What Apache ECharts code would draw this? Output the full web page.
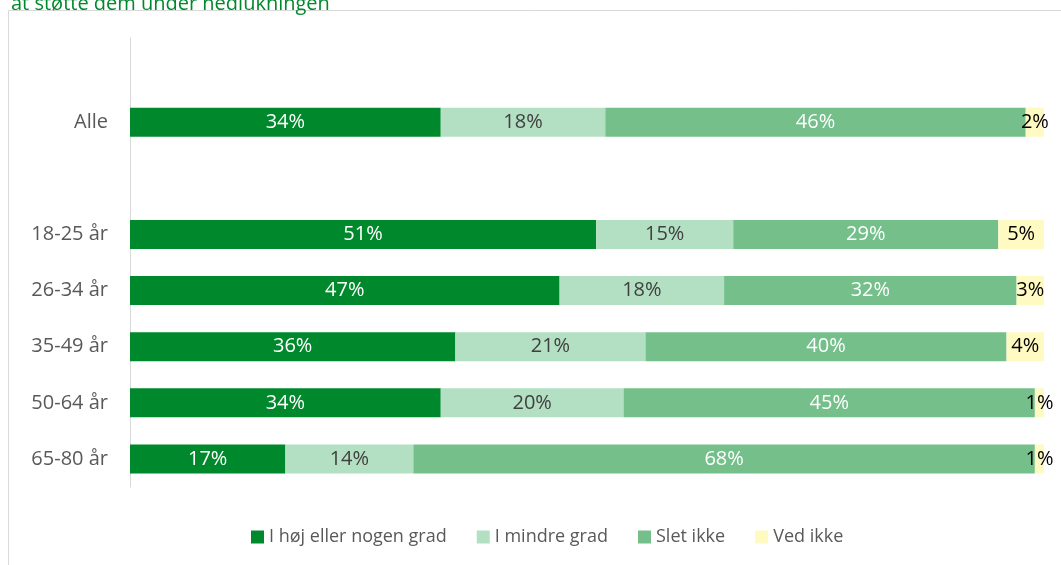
<!DOCTYPE html>
<html>
<head>
<meta charset="utf-8">
<title>Nedlukning</title>
<script src="https://cdn.jsdelivr.net/npm/echarts@6/dist/echarts.min.js"></script>
<style>
  html, body { margin: 0; padding: 0; background: #fff; }
  #chart { width: 1061px; height: 565px; }
</style>
</head>
<body>
<div id="chart"></div>
<script>
// kategorier (tomme felter giver luft over og under "Alle")
var categories = ['', 'Alle', '', '18-25 år', '26-34 år', '35-49 år', '50-64 år', '65-80 år'];
var seriesNames = ['I høj eller nogen grad', 'I mindre grad', 'Slet ikke', 'Ved ikke'];

var hoejGrad   = [null, 34, null, 51, 47, 35.6, 34, 17];
var mindreGrad = [null, 18, null, 15, 18, 20.8, 20, 14];
var sletIkke   = [null, 46, null, 29, 32, 39.5, 45, 68];
var vedIkke    = [null, 2,  null, 5,  3,  4.1,  1,  1];

var colors = ['#00892C', '#B3DFC2', '#74BF8A', '#FFF9C2'];
var labelColors = ['#ffffff', '#404040', '#ffffff', '#000000'];
var values = [hoejGrad, mindreGrad, sletIkke, vedIkke];

var chart = echarts.init(document.getElementById('chart'));

var series = values.map(function (data, i) {
    return {
        name: seriesNames[i],
        type: 'bar',
        stack: 'total',
        barWidth: 29,
        data: data,
        itemStyle: { color: colors[i] },
        label: {
            show: true,
            position: 'inside',
            color: labelColors[i],
            fontSize: 20,
            fontFamily: 'Open Sans',
            formatter: function (p) {
                return p.value == null ? '' : Math.round(p.value) + '%';
            }
        }
    };
});

var option = {
    animation: false,
    title: {
        text: 'at støtte dem under nedlukningen',
        left: 6,
        top: -11,
        textStyle: { color: '#00892C', fontSize: 20, fontWeight: 'normal', fontFamily: 'Open Sans' }
    },
    graphic: [{
        type: 'rect',
        shape: { x: 8.5, y: 10.5, width: 1070, height: 570 },
        style: { fill: 'none', stroke: '#D9D9D9', lineWidth: 1 },
        silent: true
    }],
    legend: {
        bottom: 14,
        left: 246,
        itemWidth: 13,
        itemHeight: 13,
        itemGap: 30,
        icon: 'rect',
        textStyle: { color: '#595959', fontSize: 18, fontFamily: 'Open Sans' },
        data: seriesNames
    },
    grid: { left: 130, right: 17, top: 38, bottom: 78 },
    xAxis: {
        type: 'value',
        min: 0,
        max: 100,
        show: false
    },
    yAxis: {
        type: 'category',
        inverse: true,
        data: categories,
        axisLine: { show: true, lineStyle: { color: '#D9D9D9', width: 1 } },
        axisTick: { show: false },
        axisLabel: { color: '#595959', fontSize: 20, fontFamily: 'Open Sans', margin: 22 }
    },
    series: series
};

chart.setOption(option);
</script>
</body>
</html>
